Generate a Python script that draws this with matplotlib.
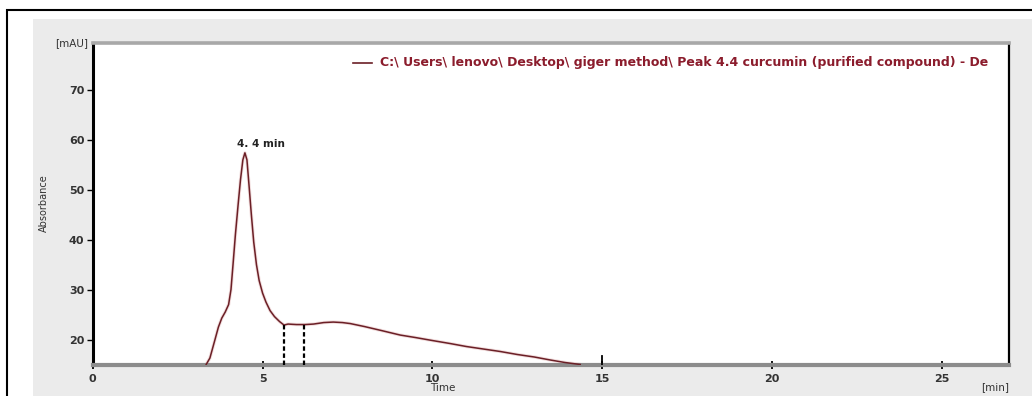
import matplotlib
matplotlib.use("Agg")
import matplotlib.pyplot as plt
from matplotlib.patches import Rectangle

# ---- data ----
time_min = [3.34, 3.45, 3.60, 3.70, 3.80, 3.90, 4.00, 4.07, 4.13, 4.20, 4.28, 4.35,
            4.42, 4.48, 4.54, 4.60, 4.67, 4.74, 4.82, 4.90, 5.00, 5.10, 5.22, 5.35,
            5.50, 5.63, 5.75, 6.00, 6.25, 6.50, 6.80, 7.08, 7.35, 7.58, 8.00,
            8.50, 9.05, 9.50, 10.00, 10.52, 11.00, 11.50, 12.00, 12.50, 13.00, 13.47,
            13.90, 14.35]
absorbance = [15.0, 16.3, 20.0, 22.5, 24.3, 25.5, 27.0, 30.0, 35.0, 41.0, 47.0, 52.0,
              56.0, 57.4, 56.0, 51.0, 45.0, 39.5, 35.0, 31.8, 29.3, 27.5, 25.8, 24.6,
              23.6, 22.9, 23.1, 23.0, 23.0, 23.1, 23.4, 23.5, 23.4, 23.2, 22.6,
              21.8, 20.9, 20.4, 19.8, 19.2, 18.6, 18.1, 17.6, 17.0, 16.5, 15.9,
              15.4, 15.0]
peak_time = 4.48
peak_value = 57.4
peak_label = "4. 4 min"
integration_marks = [5.63, 6.22]
integration_heights = [22.9, 23.0]
end_mark = 15.0
x_ticks = [0, 5, 10, 15, 20, 25]
y_ticks = [20, 30, 40, 50, 60, 70]
legend_text = ("C:\\ Users\\ lenovo\\ Desktop\\ giger method\\ Peak 4.4 curcumin "
               "(purified compound) - De")

W, H = 1032, 396
fig = plt.figure(figsize=(W / 100, H / 100), dpi=100)
fig.patch.set_facecolor("white")

def fx(px):
    return px / W

def fy(py):
    return 1 - py / H

# outer frame and gray panel
fig.patches.append(Rectangle((fx(7), fy(420)), fx(1100), fy(10) - fy(420),
                             transform=fig.transFigure, fill=False,
                             edgecolor="black", linewidth=1.5, zorder=-2))
fig.patches.append(Rectangle((fx(33), fy(420)), fx(1100), fy(19) - fy(420),
                             transform=fig.transFigure, facecolor="#ebebeb",
                             edgecolor="none", zorder=-1))

left, right, top, bottom = 92.7, 1009, 43, 364.5
ax = fig.add_axes([fx(left), fy(bottom), fx(right - left), fy(top) - fy(bottom)])
ax.set_zorder(2)
ax.set_facecolor("white")

line_color = "#6b1f26"
ax.plot(time_min, absorbance, color="#d9a0a0", linewidth=2.4, alpha=0.35,
        solid_capstyle="round", zorder=2)
ax.plot(time_min, absorbance, color=line_color, linewidth=1.1, zorder=3)

for xm, hm in zip(integration_marks, integration_heights):
    ax.plot([xm, xm], [15, hm], color="black", linestyle=(0, (2, 1.2)),
            linewidth=1.6, zorder=4)
ax.plot([end_mark, end_mark], [15, 16.7], color="black", linewidth=1.3, zorder=4)

ax.text(peak_time - 0.22, peak_value + 0.8, peak_label, fontsize=7.5,
        fontweight="bold", color="#222222", ha="left", va="bottom",
        family="DejaVu Sans")

ax.set_xlim(0, 26.97)
ax.set_ylim(15, 79.4)
ax.set_xticks(x_ticks)
ax.set_yticks(y_ticks)
ax.tick_params(axis="x", direction="inout", length=6, width=1.3, colors="black",
               labelsize=8, pad=4, labelcolor="#333333")
ax.tick_params(axis="y", direction="out", length=4, width=1.0, colors="black",
               labelsize=8, pad=2, labelcolor="#333333")
for lab in ax.get_xticklabels() + ax.get_yticklabels():
    lab.set_fontweight("bold")
    lab.set_family("DejaVu Sans")

ax.spines["left"].set_color("black")
ax.spines["left"].set_linewidth(2.2)
ax.spines["right"].set_color("black")
ax.spines["right"].set_linewidth(1.6)
ax.spines["bottom"].set_color("#8c8c8c")
ax.spines["bottom"].set_linewidth(3.0)
ax.spines["top"].set_color("#a8a8a8")
ax.spines["top"].set_linewidth(2.6)

# legend entry
ax.plot([0.2845, 0.3045], [0.938, 0.938], transform=ax.transAxes,
        color=line_color, linewidth=1.2)
ax.text(0.3135, 0.938, legend_text, transform=ax.transAxes, fontsize=9.0,
        fontweight="bold", color="#8b1c2c", ha="left", va="center",
        family="DejaVu Sans")

# axis units / titles
fig.text(fx(88), fy(43), "[mAU]", fontsize=7.5, ha="right", va="center",
         color="#333333", family="DejaVu Sans", zorder=5)
fig.text(fx(1009), fy(387), "[min]", fontsize=7.5, ha="right", va="center",
         color="#333333", family="DejaVu Sans", zorder=5)
fig.text(fx(443), fy(383), "Time", fontsize=7.5, ha="center", va="top",
         color="#333333", family="DejaVu Sans", zorder=5)
fig.text(fx(44), fy(203), "Absorbance", fontsize=7, rotation=90, ha="center",
         va="center", color="#333333", family="Liberation Sans Narrow", zorder=5)

fig.savefig("out.png", dpi=100)
